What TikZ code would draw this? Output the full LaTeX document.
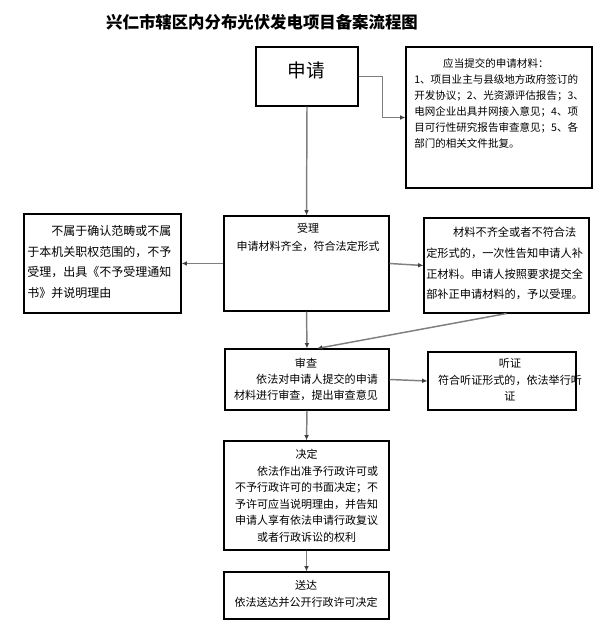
\documentclass[tikz,border=0pt]{standalone}
\usepackage{fontspec}
\setmainfont{Noto Sans CJK SC}
\usetikzlibrary{arrows.meta}
\definecolor{linegray}{HTML}{7F7F7F}
\begin{document}
\begin{tikzpicture}[x=0.75pt,y=-0.75pt,
  box/.style={draw=black,line width=0.8pt,inner sep=0pt},
  txt/.style={inner sep=0pt},
  conn/.style={draw=linegray,line width=1.1pt,-{Latex[length=4pt,width=3.5pt,color=black!75]}}]
\useasboundingbox (0,0) rectangle (613,627);
% title
\node[txt,font=\fontsize{12.3pt}{15pt}\selectfont\bfseries] (title) at (262,22) {兴仁市辖区内分布光伏发电项目备案流程图};
% boxes
\node[box,minimum width=102*0.75pt,minimum height=59*0.75pt] (shen) at (307,76.5) {};
\node[box,minimum width=186*0.75pt,minimum height=141*0.75pt] (cail) at (499,117.5) {};
\node[box,minimum width=165*0.75pt,minimum height=95*0.75pt] (shouli) at (306.5,263.5) {};
\node[box,minimum width=157*0.75pt,minimum height=99*0.75pt] (buyu) at (102.5,263.5) {};
\node[box,minimum width=165*0.75pt,minimum height=95*0.75pt] (buqi) at (506.5,265.5) {};
\node[box,minimum width=164*0.75pt,minimum height=61*0.75pt] (shencha) at (307,379.5) {};
\node[box,minimum width=148*0.75pt,minimum height=58*0.75pt] (ting) at (502,381) {};
\node[box,minimum width=165*0.75pt,minimum height=109*0.75pt] (jue) at (306.5,495.5) {};
\node[box,minimum width=165*0.75pt,minimum height=47*0.75pt] (song) at (306.5,595.5) {};
% texts
\node[txt,font=\fontsize{14pt}{16pt}\selectfont] (shenT) at (306,70) {申请};
\node[txt,anchor=north west,align=left,font=\fontsize{7.9pt}{12pt}\selectfont] (cailT) at (414,58) {\hspace*{2.75em}应当提交的申请材料：\\1、项目业主与县级地方政府签订的\\开发协议；2、光资源评估报告；3、\\电网企业出具并网接入意见；4、项\\目可行性研究报告审查意见；5、各\\部门的相关文件批复。};
\node[txt,anchor=north,align=center,font=\fontsize{8.25pt}{13.5pt}\selectfont] (shouliT) at (308,223) {受理\\申请材料齐全，符合法定形式};
\node[txt,anchor=north west,align=left,font=\fontsize{9pt}{15.5pt}\selectfont] (buyuT) at (27,225) {\hspace*{2em}不属于确认范畴或不属\\于本机关职权范围的，不予\\受理，出具《不予受理通知\\书》并说明理由};
\node[txt,anchor=north west,align=left,font=\fontsize{8.4pt}{15.5pt}\selectfont] (buqiT) at (426,227) {\hspace*{2.4em}材料不齐全或者不符合法\\定形式的，一次性告知申请人补\\正材料。申请人按照要求提交全\\部补正申请材料的，予以受理。};
\node[txt,anchor=north,align=center,font=\fontsize{8.3pt}{12pt}\selectfont] (shenchaT) at (306,358) {审查\\\hspace*{2em}依法对申请人提交的申请\\材料进行审查，提出审查意见};
\node[txt,anchor=north,align=center,font=\fontsize{8.3pt}{12.4pt}\selectfont] (tingT) at (510,358) {听证\\符合听证形式的，依法举行听\\证};
\node[txt,anchor=north,align=center,font=\fontsize{8.25pt}{12.4pt}\selectfont] (jueT) at (306.5,449) {决定\\\hspace*{2em}依法作出准予行政许可或\\不予行政许可的书面决定；不\\予许可应当说明理由，并告知\\申请人享有依法申请行政复议\\或者行政诉讼的权利};
\node[txt,anchor=north,align=center,font=\fontsize{8.25pt}{12.75pt}\selectfont] (songT) at (306,580) {送达\\依法送达并公开行政许可决定};
% connectors
\draw[conn] (shen.south) -- (shouli.north);
\draw[conn] (shen.east) -- ++(24,0) |- (cail.west);
\draw[conn] (shouli.west) -- (buyu.east);
\draw[conn] (shouli.east) -- (buqi.west);
\draw[conn] (buqi.south) -- ([xshift=7.5pt]shencha.north);
\draw[conn] (shouli.south) -- (shencha.north);
\draw[conn] (shencha.east) -- (ting.west);
\draw[conn] (shencha.south) -- (jue.north);
\draw[conn] (jue.south) -- (song.north);
\end{tikzpicture}
\end{document}
